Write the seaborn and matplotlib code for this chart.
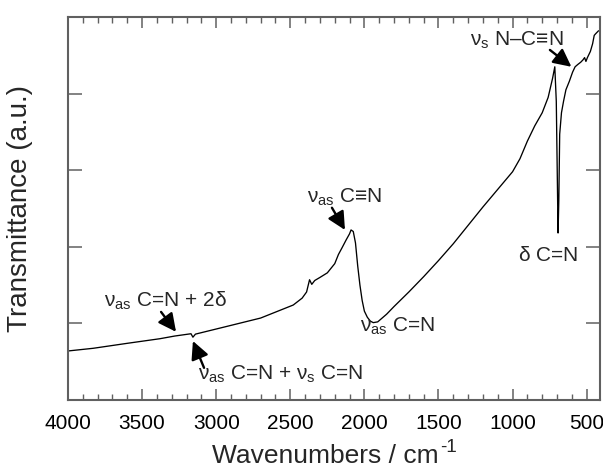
import numpy as np
import pandas as pd
import matplotlib
matplotlib.use("Agg")
import matplotlib.pyplot as plt
import seaborn as sns
from matplotlib.ticker import MultipleLocator, FixedLocator, NullFormatter

# ---- data ----
wavenumber = [4000, 3830, 3600, 3380, 3280, 3170, 3157, 3140, 2930, 2700, 2480,
              2420, 2390, 2370, 2355, 2335, 2300, 2250, 2200, 2175, 2150, 2123,
              2100, 2090, 2075, 2060, 2045, 2030, 2015, 2000, 1980, 1960, 1940,
              1910, 1850, 1800, 1700, 1600, 1500, 1400, 1300, 1200, 1100, 1000,
              950, 900, 850, 800, 760, 730, 715, 705, 698, 693, 688, 682, 670,
              656, 640, 617, 595, 578, 560, 540, 525, 514, 505, 495, 475, 460,
              449, 440, 430, 420]
transmittance = [0.64, 0.675, 0.74, 0.80, 0.835, 0.865, 0.82, 0.86, 0.96, 1.07, 1.24,
                 1.33, 1.41, 1.57, 1.51, 1.56, 1.60, 1.66, 1.78, 1.90, 1.99, 2.09,
                 2.17, 2.22, 2.20, 2.05, 1.75, 1.50, 1.30, 1.16, 1.08, 1.03, 1.01,
                 1.02, 1.12, 1.22, 1.41, 1.61, 1.82, 2.04, 2.28, 2.52, 2.75, 2.98,
                 3.15, 3.38, 3.58, 3.75, 3.95, 4.20, 4.35, 3.90, 2.90, 2.18, 2.60,
                 3.47, 3.75, 3.90, 4.05, 4.16, 4.28, 4.35, 4.38, 4.41, 4.44, 4.47,
                 4.42, 4.47, 4.55, 4.65, 4.76, 4.78, 4.80, 4.82]
x_ticks = [4000, 3500, 3000, 2500, 2000, 1500, 1000, 500]
y_ticks = [1, 2, 3, 4]

df = pd.DataFrame({"w": wavenumber, "t": transmittance})

sns.set_theme(style="ticks")
plt.rcParams["font.family"] = ["Liberation Sans", "DejaVu Sans"]
plt.rcParams["mathtext.fontset"] = "custom"
plt.rcParams["mathtext.rm"] = "Liberation Sans"
plt.rcParams["mathtext.it"] = "Liberation Sans"
plt.rcParams["mathtext.sf"] = "Liberation Sans"
plt.rcParams["mathtext.bf"] = "Liberation Sans:bold"
plt.rcParams["mathtext.fallback"] = "stix"

fig = plt.figure(figsize=(6.03, 4.71), dpi=100)
ax = fig.add_axes([68 / 603, 1 - 400 / 471, (600 - 68) / 603, (400 - 17) / 471])

sns.lineplot(data=df, x="w", y="t", ax=ax, color="black", lw=0.95, estimator=None)

ax.set_xlim(4000, 410)
ax.set_ylim(0, 5)
ax.xaxis.set_major_locator(FixedLocator(x_ticks))
ax.xaxis.set_minor_locator(MultipleLocator(100))
ax.yaxis.set_major_locator(FixedLocator(y_ticks))
ax.yaxis.set_major_formatter(NullFormatter())

spine_col = "#606060"
for s in ax.spines.values():
    s.set_color(spine_col)
    s.set_linewidth(1.5)
ax.tick_params(axis="x", which="major", direction="in", length=8, width=1.1,
               top=True, bottom=True, colors=spine_col, labelcolor="black",
               labelsize=15, pad=10)
ax.tick_params(axis="x", which="minor", direction="in", length=4.5, width=1.0,
               top=True, bottom=True, colors=spine_col)
ax.tick_params(axis="y", which="major", direction="in", length=10, width=1.1,
               left=True, right=True, colors=spine_col)

ax.set_xlabel("Wavenumbers / cm", fontsize=19)
ax.xaxis.label.set_va("baseline")
ax.xaxis.set_label_coords(0.484, -0.1645)
ax.text(0.699, -0.102, "-1", transform=ax.transAxes, fontsize=13.5,
        ha="left", va="top")
ax.set_ylabel("Transmittance (a.u.)", fontsize=20)
ax.yaxis.set_label_coords(-0.066, 0.5)

arrow = dict(arrowstyle="-|>,head_length=0.6,head_width=0.3", color="black",
             lw=1.7, shrinkA=0, shrinkB=0, mutation_scale=18)
fs = 15

def note(text, xy_text, tail=None, head=None, ha="center"):
    ax.text(xy_text[0], xy_text[1], text, fontsize=fs, ha=ha, va="center")
    if tail is not None:
        ax.annotate("", xy=head, xytext=tail, arrowprops=arrow)

note(r"$\nu_{\rm as}$ C=N + 2$\delta$", (3345, 1.29), (3372, 1.15), (3271, 0.89))
note(r"$\nu_{\rm as}$ C=N + $\nu_{\rm s}$ C=N", (2563, 0.33), (3082, 0.42), (3157, 0.77))
note(r"$\nu_{\rm as}$ C=N", (1773, 0.96))
note(r"$\delta$ C=N", (761, 1.89))
note(r"$\nu_{\rm as}$ C≡N", (2131, 2.65), (2219, 2.51), (2131, 2.22))
note(r"$\nu_{\rm s}$ N–C≡N", (970, 4.70), (748, 4.57), (603, 4.35))

fig.savefig("out.png", dpi=100)
